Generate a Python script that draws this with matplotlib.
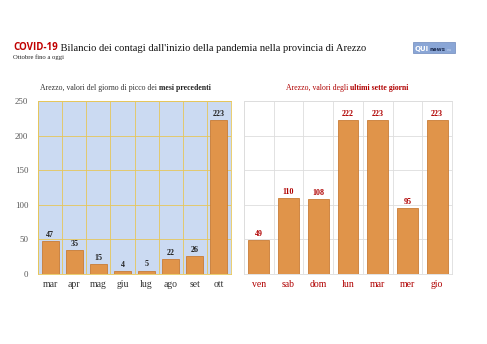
import numpy as np
import matplotlib
matplotlib.use('Agg')
import matplotlib.pyplot as plt
from matplotlib.patches import Rectangle

# dati
mesi = ['mar', 'apr', 'mag', 'giu', 'lug', 'ago', 'set', 'ott']
picchi_mesi = [47, 35, 15, 4, 5, 22, 26, 223]
giorni = ['ven', 'sab', 'dom', 'lun', 'mar', 'mer', 'gio']
casi_giorni = [49, 110, 108, 222, 223, 95, 223]
yticks = [0, 50, 100, 150, 200, 250]

serif = 'Liberation Serif'
bar_col = '#e0944a'
bar_edge = '#c97c35'
red = '#b00000'

fig = plt.figure(figsize=(4.87, 3.44), dpi=100)
fig.patch.set_facecolor('white')

W, H = 487., 344.
def box(x0, y0, x1, y1):
    return [x0/W, 1-y1/H, (x1-x0)/W, (y1-y0)/H]

ax1 = fig.add_axes(box(38, 101, 231, 274))
ax2 = fig.add_axes(box(244, 101, 452, 274))

#----- pannello sinistro
x1 = np.arange(len(mesi))
ax1.set_facecolor('#cbdaf2')
ax1.bar(x1, picchi_mesi, width=0.7, color=bar_col, edgecolor=bar_edge, linewidth=0.6, zorder=3)
ax1.set_xlim(-0.5, len(mesi)-0.5)
ax1.set_ylim(0, 250)
ax1.set_yticks(yticks)
ax1.set_xticks(x1)
ax1.set_xticklabels(mesi, family=serif, fontsize=7, color='#333333')
ax1.set_yticklabels([str(v) for v in yticks], family=serif, fontsize=6.3, color='#555555')
ax1.set_xticks(np.arange(-0.5, len(mesi)), minor=True)
ax1.grid(True, which='minor', axis='x', color='#e6c65a', linewidth=0.6, zorder=1)
ax1.grid(True, which='major', axis='y', color='#e6c65a', linewidth=0.6, zorder=1)
ax1.tick_params(which='both', length=0, pad=4)
ax1.tick_params(axis='y', pad=7)
for s in ax1.spines.values():
    s.set_color('#e6c65a')
    s.set_linewidth(0.6)
for xi, v in zip(x1, picchi_mesi):
    ax1.text(xi, v+3, str(v), ha='center', va='bottom', family=serif,
             fontsize=5.8, fontweight='bold', color='#222222', zorder=4)

#----- pannello destro
x2 = np.arange(len(giorni))
ax2.set_facecolor('white')
ax2.bar(x2, casi_giorni, width=0.7, color=bar_col, edgecolor=bar_edge, linewidth=0.6, zorder=3)
ax2.set_xlim(-0.5, len(giorni)-0.5)
ax2.set_ylim(0, 250)
ax2.set_yticks(yticks)
ax2.set_yticklabels([])
ax2.set_xticks(x2)
ax2.set_xticklabels(giorni, family=serif, fontsize=7, color=red)
ax2.set_xticks(np.arange(-0.5, len(giorni)), minor=True)
ax2.grid(True, which='minor', axis='x', color='#dddddd', linewidth=0.6, zorder=1)
ax2.grid(True, which='major', axis='y', color='#dddddd', linewidth=0.6, zorder=1)
ax2.tick_params(which='both', length=0, pad=4)
for s in ax2.spines.values():
    s.set_color('#dddddd')
    s.set_linewidth(0.6)
for xi, v in zip(x2, casi_giorni):
    ax2.text(xi, v+3, str(v), ha='center', va='bottom', family=serif,
             fontsize=5.8, fontweight='bold', color=red, zorder=4)

#----- titoli
t = fig.text(13/W, 1-50/H, 'COVID-19', family='Open Sans', fontsize=7,
             fontweight='bold', color='#c00000', va='baseline')
ax1.annotate(' Bilancio dei contagi dall\'inizio della pandemia nella provincia di Arezzo',
             xy=(1, 0), xycoords=t, va='bottom', ha='left', family=serif,
             fontsize=7.55, color='#111111', annotation_clip=False)
fig.text(13/W, 1-59.5/H, 'Ottobre fino a oggi', family=serif, fontsize=4.8,
         color='#222222', va='baseline')

s1 = fig.text(40/W, 1-90/H, 'Arezzo, valori del giorno di picco dei ', family=serif,
              fontsize=5.6, color='#333333', va='baseline')
ax1.annotate('mesi precedenti', xy=(1, 0), xycoords=s1, va='bottom', ha='left',
             family=serif, fontsize=5.6, fontweight='bold', color='#222222',
             annotation_clip=False)
s2 = fig.text(286/W, 1-90/H, 'Arezzo, valori degli ', family=serif,
              fontsize=5.6, color=red, va='baseline')
ax1.annotate('ultimi sette giorni', xy=(1, 0), xycoords=s2, va='bottom', ha='left',
             family=serif, fontsize=5.6, fontweight='bold', color=red,
             annotation_clip=False)

#----- logo
fig.patches.append(Rectangle((413/W, 1-53/H), 42/W, 11/H, transform=fig.transFigure,
                             facecolor='#8aa6d6', edgecolor='#6d88bb', linewidth=0.5))
fig.text(415/W, 1-51/H, 'QUI', family='DejaVu Sans', fontsize=5, fontweight='bold',
         color='white', va='baseline')
fig.text(429.5/W, 1-51/H, 'news', family='DejaVu Sans', fontsize=4, fontweight='bold',
         color='#1f2f55', va='baseline')
fig.text(447/W, 1-51/H, 'eu', family='DejaVu Sans', fontsize=3,
         color='#c6d4ee', va='baseline')

plt.savefig('out.png', dpi=100)
